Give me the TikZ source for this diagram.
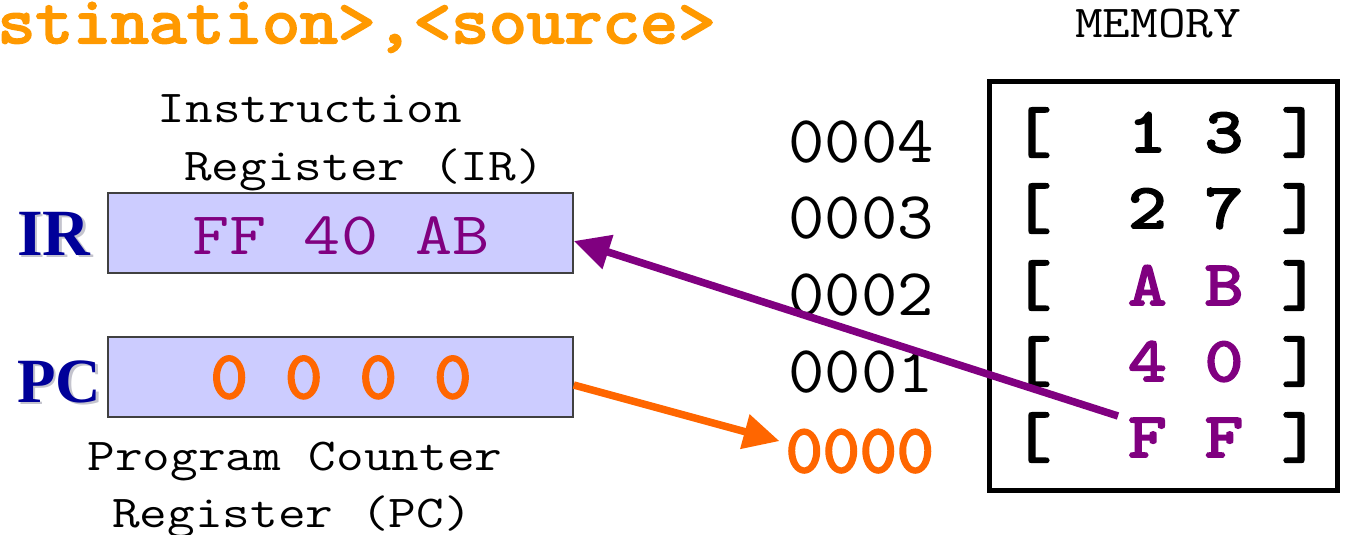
\documentclass[tikz,border=0pt]{standalone}
\usepackage{fontspec}
\usepackage{graphicx}
\usetikzlibrary{arrows.meta}
\newfontfamily\timesfont{Liberation Serif}
\newfontfamily\heavytt{lmmono10-regular.otf}[FakeBold=3]

\definecolor{regfill}{RGB}{204,204,255}
\definecolor{codepurple}{RGB}{128,0,128}
\definecolor{pcorange}{RGB}{255,102,0}
\definecolor{titleorange}{RGB}{255,153,0}
\definecolor{regblue}{RGB}{0,0,153}
\definecolor{shadowgray}{RGB}{196,196,206}

% typewriter text at a given size, squeezed vertically by a factor
\newcommand\tw[3]{{\ttfamily\fontsize{#1}{#1}\selectfont\scalebox{1}[#2]{#3}}}
\newcommand\twb[3]{{\heavytt\fontsize{#1}{#1}\selectfont\scalebox{1}[#2]{#3}}}

\tikzset{
  caption/.style={anchor=base, inner sep=0pt},
  register/.style={draw=black!75, line width=1.5pt, fill=regfill,
    minimum width=465pt, minimum height=80pt, inner sep=0pt},
  regvalue/.style={anchor=base, inner sep=0pt},
  reglabel/.style={anchor=base west, inner sep=0pt},
  address/.style={anchor=base east, inner sep=0pt},
  memrow/.style={anchor=base west, inner sep=0pt},
  transfer/.style={line width=7.5pt, -{Triangle[length=36pt,width=34pt]}},
}

\begin{document}
\begin{tikzpicture}[x=1pt,y=-1pt]
\useasboundingbox (0,0) rectangle (1345,535);

% instruction format heading (runs off the left edge)
\node[anchor=base east, inner sep=0pt, text=titleorange] (title) at (716,43)
  {\twb{72}{0.93}{<destination>,<source>}};

% registers
\node[caption] (irname1) at (310,122) {\tw{53.7}{0.85}{Instruction}};
\node[caption] (irname2) at (364,180) {\tw{53.7}{0.85}{Register (IR)}};
\node[register] (irbox) at (340.5,233) {};
\node[regvalue, text=codepurple] (irval) at (341,254) {\tw{72}{0.84}{FF~40~AB}};

\node[register] (pcbox) at (340.5,377) {};
\node[regvalue, text=pcorange] (pcval) at (341,398) {\twb{71}{0.95}{0~0~0~0}};
\node[caption] (pcname1) at (295,470) {\tw{53.7}{0.85}{Program Counter}};
\node[caption] (pcname2) at (292,527) {\tw{53.7}{0.85}{Register (PC)}};

% register tags with drop shadow
\node[reglabel, text=shadowgray, font=\timesfont\bfseries\fontsize{66}{66}\selectfont] (irtagshadow) at (19.5,257.5) {IR};
\node[reglabel, text=regblue, font=\timesfont\bfseries\fontsize{66}{66}\selectfont] (irtag) at (17,255) {IR};
\node[reglabel, text=shadowgray, font=\timesfont\bfseries\fontsize{63}{63}\selectfont] (pctagshadow) at (19.5,404.5) {PC};
\node[reglabel, text=regblue, font=\timesfont\bfseries\fontsize{63}{63}\selectfont] (pctag) at (17,402) {PC};

% memory
\node[caption] (memtitle) at (1158,38) {\tw{53.7}{0.85}{MEMORY}};
\draw[line width=5pt] (989.5,81.5) rectangle (1337.5,490.5);

\node[address] (a4) at (934,162) {\tw{70.5}{0.95}{0004}};
\node[address] (a3) at (934,238) {\tw{70.5}{0.95}{0003}};
\node[address] (a2) at (934,315) {\tw{70.5}{0.95}{0002}};
\node[address] (a1) at (934,392) {\tw{70.5}{0.95}{0001}};
\node[address, text=pcorange] (a0) at (934,472) {\twb{70.5}{0.97}{0000}};

\node[memrow] (m4) at (1013,152) {\twb{73}{0.87}{[~~1~3~]}};
\node[memrow] (m3) at (1013,228) {\twb{73}{0.87}{[~~2~7~]}};
\node[memrow] (m2) at (1013,305) {\twb{73}{0.87}{[~~\textcolor{codepurple}{A~B}~]}};
\node[memrow] (m1) at (1013,381) {\twb{73}{0.87}{[~~\textcolor{codepurple}{4~0}~]}};
\node[memrow] (m0) at (1013,457) {\twb{73}{0.87}{[~~\textcolor{codepurple}{F~F}~]}};

% data paths
\coordinate (ffstart) at (1118,416);
\draw[transfer, codepurple] (ffstart) -- ([yshift=-8pt]irbox.east);
\coordinate (pcout) at ([yshift=-8pt]pcbox.east);
\draw[transfer, pcorange] (pcout) -- ([xshift=-6pt,yshift=10pt]a0.west);
\end{tikzpicture}
\end{document}
